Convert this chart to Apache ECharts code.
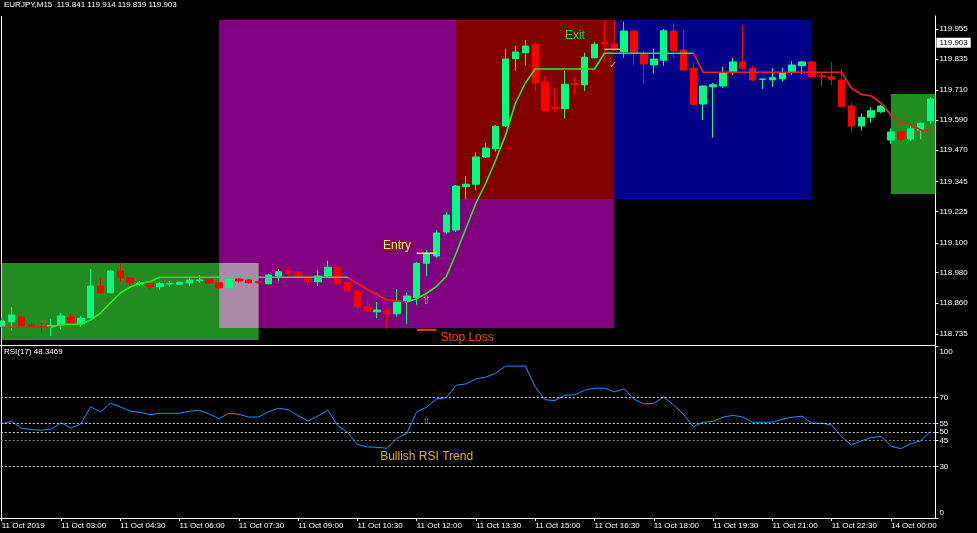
<!DOCTYPE html>
<html><head><meta charset="utf-8">
<script src="https://cdn.jsdelivr.net/npm/echarts@6/dist/echarts.min.js"></script>
<style>html,body{margin:0;padding:0;background:#000;}#c{width:977px;height:533px;}</style>
</head><body><div id="c"></div>
<script>
// ---------- DATA ----------
const headerText = 'EURJPY,M15  119.841 119.914 119.839 119.903';
const rsiHeaderText = 'RSI(17) 48.3469';
const currentPrice = 119.903;

// 15-minute bars: 11 Oct 01:30 ... 11 Oct 23:45, then 14 Oct 00:00 ... 01:00
const categories = [];
for (let m = 90; m <= 23 * 60 + 45; m += 15) categories.push('11 Oct ' + String(Math.floor(m / 60)).padStart(2, '0') + ':' + String(m % 60).padStart(2, '0'));
for (let m = 0; m <= 60; m += 15) categories.push('14 Oct ' + String(Math.floor(m / 60)).padStart(2, '0') + ':' + String(m % 60).padStart(2, '0'));

const tickLabels = ['11 Oct 2019','11 Oct 03:00','11 Oct 04:30','11 Oct 06:00','11 Oct 07:30','11 Oct 09:00','11 Oct 10:30','11 Oct 12:00','11 Oct 13:30','11 Oct 15:00','11 Oct 16:30','11 Oct 18:00','11 Oct 19:30','11 Oct 21:00','11 Oct 22:30','14 Oct 00:00'];
const priceTicks = [118.735,118.860,118.980,119.100,119.225,119.345,119.470,119.590,119.710,119.835,119.955];
const rsiTicks = [0,30,45,50,55,70,100];
const rsiLevels = [70,55,50,45,30];

const open = [118.764,118.784,118.803,118.771,118.764,118.764,118.771,118.803,118.775,118.800,
118.927,118.900,118.987,118.959,118.935,118.938,118.924,118.935,118.934,118.939,
118.948,118.954,118.940,118.920,118.955,118.951,118.944,118.936,118.967,118.987,
118.983,118.963,118.944,118.967,119.002,118.940,118.907,118.843,118.824,118.831,
118.816,118.867,118.882,119.018,119.047,119.143,119.151,119.324,119.334,119.443,
119.476,119.567,119.836,119.860,119.894,119.743,119.643,119.636,119.736,119.732,
119.840,119.900,119.895,119.864,119.947,119.855,119.811,119.830,119.947,119.871,
119.798,119.655,119.724,119.727,119.784,119.823,119.798,119.754,119.752,119.756,
119.782,119.808,119.823,119.768,119.764,119.751,119.647,119.567,119.602,119.624,
119.511,119.543,119.515,119.551,119.588];
const close = [118.787,118.811,118.768,118.762,118.762,118.769,118.807,118.778,118.798,118.927,
118.900,118.987,118.960,118.940,118.939,118.924,118.936,118.938,118.942,118.951,
118.951,118.939,118.920,118.954,118.947,118.940,118.940,118.971,118.984,118.978,
118.964,118.944,118.967,119.002,118.936,118.907,118.843,118.827,118.831,118.818,
118.862,118.887,119.018,119.057,119.139,119.211,119.327,119.334,119.443,119.479,
119.566,119.835,119.863,119.887,119.740,119.628,119.636,119.734,119.732,119.842,
119.894,119.895,119.871,119.947,119.862,119.815,119.835,119.948,119.868,119.791,
119.654,119.727,119.732,119.780,119.823,119.798,119.751,119.755,119.760,119.780,
119.811,119.823,119.764,119.766,119.754,119.644,119.567,119.602,119.628,119.647,
119.543,119.514,119.556,119.578,119.675];
const low = [118.759,118.748,118.763,118.758,118.740,118.727,118.754,118.773,118.764,118.797,
118.895,118.897,118.944,118.927,118.927,118.915,118.912,118.924,118.931,118.927,
118.940,118.935,118.914,118.917,118.940,118.937,118.937,118.933,118.947,118.967,
118.951,118.927,118.927,118.963,118.933,118.903,118.815,118.823,118.798,118.756,
118.804,118.775,118.851,118.967,119.039,119.135,119.143,119.274,119.311,119.439,
119.464,119.563,119.787,119.811,119.707,119.625,119.624,119.596,119.691,119.707,
119.837,119.824,119.867,119.840,119.811,119.734,119.778,119.808,119.838,119.787,
119.648,119.591,119.520,119.720,119.771,119.791,119.747,119.715,119.724,119.744,
119.771,119.775,119.758,119.722,119.731,119.641,119.544,119.548,119.580,119.618,
119.495,119.504,119.507,119.514,119.575];
const high = [118.799,118.842,118.809,118.780,118.778,118.794,118.820,118.815,118.807,118.995,
118.958,118.991,119.020,118.963,118.947,118.941,118.943,118.947,118.945,118.958,
118.971,118.957,118.943,118.957,118.959,118.955,118.947,118.975,118.995,118.999,
118.985,118.967,118.988,119.028,119.007,118.943,118.911,118.876,118.863,118.838,
118.915,118.900,119.023,119.071,119.151,119.223,119.331,119.367,119.462,119.499,
119.571,119.875,119.887,119.911,119.902,119.767,119.719,119.787,119.764,119.860,
119.904,119.987,119.991,119.984,119.951,119.868,119.878,119.955,119.978,119.951,
119.824,119.729,119.740,119.804,119.840,119.971,119.807,119.755,119.798,119.800,
119.827,119.827,119.827,119.780,119.823,119.795,119.660,119.618,119.642,119.651,
119.558,119.547,119.567,119.580,119.682];

const trendLine = [118.762,118.762,118.762,118.762,118.762,118.762,118.774,118.774,118.774,118.791,
118.819,118.859,118.899,118.923,118.938,118.944,118.962,118.962,118.962,118.962,
118.962,118.962,118.962,118.962,118.962,118.962,118.962,118.962,118.962,118.962,
118.962,118.962,118.962,118.962,118.962,118.962,118.937,118.913,118.893,118.871,
118.867,118.863,118.876,118.898,118.925,118.965,119.059,119.159,119.259,119.339,
119.431,119.531,119.659,119.739,119.795,119.795,119.795,119.795,119.795,119.795,
119.795,119.858,119.858,119.858,119.858,119.858,119.858,119.858,119.858,119.858,
119.858,119.782,119.782,119.782,119.782,119.782,119.782,119.782,119.782,119.782,
119.782,119.782,119.782,119.782,119.782,119.782,119.718,119.693,119.687,119.659,
119.611,119.579,119.575,119.551,119.544];
const trendBreaks = [5, 35, 41, 70];   // bar indexes where the trend line changes colour (starts bearish)

const rsi = [54.8,56.2,52.2,51.4,51.0,51.7,55.4,52.3,54.7,64.6,
61.7,66.7,64.6,62.1,61.5,60.1,60.9,60.9,60.9,62.1,
62.6,60.5,57.8,60.9,60.3,58.7,58.7,61.8,63.8,63.0,
59.5,56.4,59.3,62.8,53.7,49.8,42.8,41.3,41.1,40.5,
46.3,49.2,61.8,64.4,69.2,70.0,77.2,78.0,80.9,81.9,
84.2,88.3,88.3,88.3,76.2,68.7,68.3,71.4,71.6,74.3,
75.5,75.5,73.3,75.1,69.1,66.3,66.7,70.4,65.7,60.3,
53.1,55.7,56.2,58.6,59.7,58.7,55.7,55.7,55.7,57.4,
58.6,59.2,55.1,55.1,54.1,47.3,42.4,44.8,46.7,47.5,
41.8,40.3,43.2,44.8,50.4];

// rectangles: [fromBar, toBar, lowPrice, highPrice]
const zones = [[0,26,118.711,119.019],[22,62,118.759,119.991],[46,62,119.275,119.991],[62,82,119.275,119.991],[90,95,119.295,119.695],[22,26,118.759,119.019]];
const zoneColors = ['#228B22','#800080','#800000','#000088','#228B22','#A78BA7'];

// short level segments: [fromBar, toBar, price]
const entryLevel = [42, 44, 119.058];
const stopLevel = [42, 44, 118.752];
const exitLevel = [61, 63.1, 119.874];

const mainNoteText = ['Entry','Exit','Stop Loss','\u21E7','\u2713'];
const mainNoteX = [38.6, 57.0, 44.4, 43.0, 61.9];
const mainNoteY = [119.087, 119.927, 118.719, 118.867, 119.811];
const rsiNoteText = ['\u21E7','Bullish RSI Trend'];
const rsiNoteX = [43.0, 38.3];
const rsiNoteY = [56.1, 35.4];

// ---------- STYLE / CHART ----------
const FONT = 'Liberation Sans';
const mainNoteStyle = [
  {color:'#F4F43C', size:12, font:FONT, align:'left'},
  {color:'#32CD32', size:12, font:FONT, align:'left'},
  {color:'#FF4500', size:12, font:FONT, align:'left'},
  {color:'#E0A040', size:12, font:'DejaVu Sans', align:'center'},
  {color:'#E0A020', size:10, font:'DejaVu Sans', align:'center'}
];
const rsiNoteStyle = [
  {color:'#D9B000', size:9, font:'DejaVu Sans', align:'center'},
  {color:'#E6B800', size:12, font:FONT, align:'left'}
];

function noteSeries(xi, yi, texts, xs, ys, styles) {
  return {
    type:'custom', xAxisIndex:xi, yAxisIndex:yi, z:5, silent:true,
    data: texts.map((t, i) => [xs[i], ys[i]]),
    renderItem: (params, api) => {
      const p = api.coord([api.value(0), api.value(1)]);
      const s = styles[params.dataIndex];
      return {type:'text', x:p[0], y:p[1], style:{text:texts[params.dataIndex], fill:s.color, fontSize:s.size, fontFamily:s.font, align:s.align, verticalAlign:'middle'}};
    }
  };
}
function levelSeries(seg, color, width) {
  return {type:'line', xAxisIndex:1, yAxisIndex:0, z:4, silent:true, symbol:'none',
    data:[[seg[0], seg[2]],[seg[1], seg[2]]], lineStyle:{color:color, width:width}};
}

const BULL = '#00FF7F', BEAR = '#FF0000', TUP = '#22EE22', TDN = '#FF1A1A';
const pieces = [];
let prev = null;
trendBreaks.forEach((b, k) => {
  const c = k % 2 === 0 ? TDN : TUP;
  const p = {lt:b, color:c};
  if (prev !== null) p.gte = prev;
  pieces.push(p);
  prev = b;
});
pieces.push({gte:prev, color: trendBreaks.length % 2 === 0 ? TDN : TUP});

const chart = echarts.init(document.getElementById('c'), null, {renderer:'canvas', width:977, height:533});
const option = {
  backgroundColor:'#000',
  animation:false,
  grid:[{left:-3.2, right:41.6, top:16, height:329, outerBoundsMode:'none', containLabel:false},
        {left:-3.2, right:41.6, top:346, height:172, outerBoundsMode:'none', containLabel:false}],
  xAxis:[
    {type:'category', gridIndex:0, data:categories, boundaryGap:true,
     axisLine:{show:true, onZero:false, lineStyle:{color:'#fff', width:1}}, axisTick:{show:false}, axisLabel:{show:false}, splitLine:{show:false}},
    {type:'value', gridIndex:0, min:-0.5, max:94.5, show:false, axisLine:{onZero:false}},
    {type:'category', gridIndex:1, data:categories, boundaryGap:true,
     axisLine:{show:true, onZero:false, lineStyle:{color:'#fff', width:1}},
     axisTick:{show:true, interval:5, alignWithLabel:true, length:3, lineStyle:{color:'#fff'}},
     axisLabel:{interval:5, align:'left', margin:4, color:'#fff', fontSize:8, fontFamily:FONT,
       formatter:(v, i) => tickLabels[i / 6] || ''},
     splitLine:{show:false}},
    {type:'value', gridIndex:1, min:-0.5, max:94.5, show:false, axisLine:{onZero:false}}
  ],
  yAxis:[
    {type:'value', gridIndex:0, position:'right', min:118.691, max:120.007,
     axisLine:{show:true, onZero:false, lineStyle:{color:'#fff'}},
     axisTick:{show:true, length:3, customValues:priceTicks, lineStyle:{color:'#fff'}},
     axisLabel:{customValues:priceTicks, color:'#fff', fontSize:8, fontFamily:FONT, margin:4, formatter:v => v.toFixed(3)},
     splitLine:{show:false}},
    {type:'value', gridIndex:1, position:'right', min:0, max:100,
     axisLine:{show:true, onZero:false, lineStyle:{color:'#fff'}},
     axisTick:{show:true, length:3, customValues:rsiTicks, lineStyle:{color:'#fff'}},
     axisLabel:{customValues:rsiTicks, color:'#fff', fontSize:8, fontFamily:FONT, margin:4,
       formatter:v => v === 100 ? '{t|100}' : (v === 0 ? '{b|0}' : String(v)),
       rich:{t:{padding:[12,0,0,0], fontSize:8, color:'#fff', fontFamily:FONT}, b:{padding:[0,0,10,0], fontSize:8, color:'#fff', fontFamily:FONT}}},
     splitLine:{show:false}}
  ],
  visualMap:[{type:'piecewise', show:false, dimension:0, seriesIndex:2, pieces:pieces}],
  series:[
    {type:'custom', xAxisIndex:1, yAxisIndex:0, z:1, silent:true, data:zones,
     renderItem:(params, api) => {
       const p0 = api.coord([api.value(0), api.value(3)]);
       const p1 = api.coord([api.value(1), api.value(2)]);
       const cs = params.coordSys;
       const r = echarts.graphic.clipRectByRect({x:p0[0], y:p0[1], width:p1[0]-p0[0], height:p1[1]-p0[1]}, {x:cs.x, y:cs.y, width:cs.width, height:cs.height});
       return r ? {type:'rect', shape:r, style:{fill:zoneColors[params.dataIndex]}} : null;
     }},
    {type:'candlestick', xAxisIndex:0, yAxisIndex:0, z:3, barWidth:7, silent:true,
     data: open.map((o, i) => [o, close[i], low[i], high[i]]),
     itemStyle:{color:BULL, color0:BEAR, borderColor:BULL, borderColor0:BEAR, borderWidth:1},
     markLine:{silent:true, symbol:['none','none'], lineStyle:{width:0, color:'rgba(0,0,0,0)'},
       label:{show:true, position:'end', formatter:currentPrice.toFixed(3), backgroundColor:'#ffffff', color:'#000', fontSize:8, fontFamily:FONT, padding:[1,3], distance:1},
       data:[{yAxis:currentPrice}]}},
    {type:'line', xAxisIndex:0, yAxisIndex:0, z:4, silent:true, symbol:'none',
     data: trendLine.map((v, i) => [i, v]), lineStyle:{width:1.6}},
    levelSeries(entryLevel, '#F4F43C', 1.5),
    levelSeries(stopLevel, '#FF4500', 2),
    levelSeries(exitLevel, '#8FD44F', 1.5),
    noteSeries(1, 0, mainNoteText, mainNoteX, mainNoteY, mainNoteStyle),
    {type:'line', xAxisIndex:2, yAxisIndex:1, z:4, silent:true, symbol:'none', data:rsi,
     lineStyle:{color:'#1E90FF', width:1},
     markLine:{silent:true, symbol:['none','none'], label:{show:false},
       data: rsiLevels.map(l => ({yAxis:l, lineStyle:{color: l === 45 ? '#8a8a8a' : '#cfcfcf', type:[2,2], width:1}}))}},
    noteSeries(3, 1, rsiNoteText, rsiNoteX, rsiNoteY, rsiNoteStyle)
  ],
  graphic:[
    {type:'text', left:4, top:1, style:{text:headerText, fill:'#fff', fontSize:8, fontFamily:FONT}},
    {type:'text', left:4, top:348, style:{text:rsiHeaderText, fill:'#fff', fontSize:8, fontFamily:FONT}},
    {type:'line', shape:{x1:1.5, y1:16, x2:1.5, y2:518}, style:{stroke:'#fff', lineWidth:1}}
  ]
};
chart.setOption(option);
</script></body></html>
